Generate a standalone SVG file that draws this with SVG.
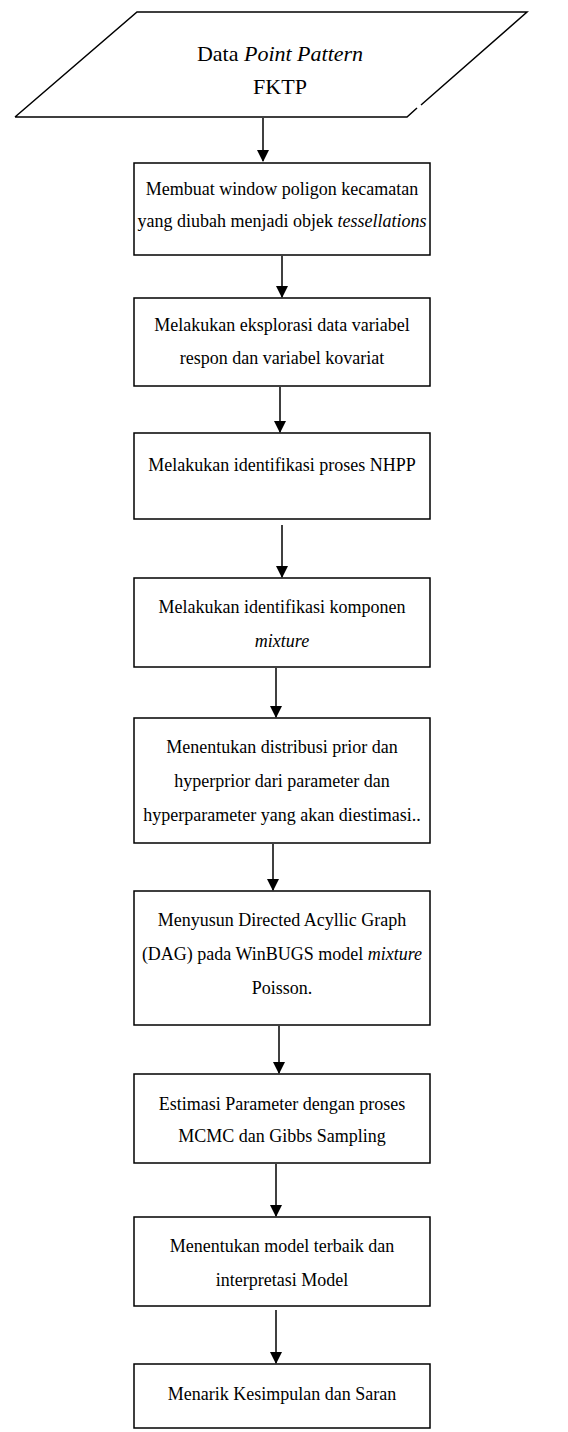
<svg xmlns="http://www.w3.org/2000/svg" width="568" height="1432" viewBox="0 0 568 1432">
<defs>
<marker id="ah" markerWidth="12" markerHeight="14" refX="11" refY="6" orient="auto" markerUnits="userSpaceOnUse" viewBox="0 0 12 12">
<path d="M0,0 L12,6 L0,12 Z" fill="#000"/>
</marker>
</defs>
<style>
.b{fill:#fff;stroke:#000;stroke-width:1.5}
.t{font-family:"Liberation Serif","Times New Roman",serif;font-size:18px;fill:#000;text-anchor:middle}
.h{font-size:22px}
.i{font-style:italic}
.c{stroke:#000;stroke-width:1.5;fill:none;marker-end:url(#ah)}
</style>
<rect width="568" height="1432" fill="#fff"/>
<g id="n0">
<path class="b" d="M15,117 L137,12 L527,12 L421,105 M417,108 L407,117 L15,117" fill="none"/>
<text class="t h" x="280" y="61">Data <tspan class="i">Point Pattern</tspan></text>
<text class="t h" x="280" y="94">FKTP</text>
</g>
<g id="n1">
<rect class="b" x="134" y="163" width="296" height="92"/>
<text class="t" x="282" y="195">Membuat window poligon kecamatan</text>
<text class="t" x="282" y="227">yang diubah menjadi objek <tspan class="i">tessellations</tspan></text>
</g>
<g id="n2">
<rect class="b" x="134" y="298" width="296" height="88"/>
<text class="t" x="282" y="331">Melakukan eksplorasi data variabel</text>
<text class="t" x="282" y="364">respon dan variabel kovariat</text>
</g>
<g id="n3">
<rect class="b" x="134" y="433" width="296" height="86"/>
<text class="t" x="282" y="471">Melakukan identifikasi proses NHPP</text>
</g>
<g id="n4">
<rect class="b" x="134" y="578" width="296" height="89"/>
<text class="t" x="282" y="613">Melakukan identifikasi komponen</text>
<text class="t i" x="282" y="647">mixture</text>
</g>
<g id="n5">
<rect class="b" x="134" y="718" width="296" height="125"/>
<text class="t" x="282" y="753">Menentukan distribusi prior dan</text>
<text class="t" x="282" y="787">hyperprior dari parameter dan</text>
<text class="t" x="282" y="821">hyperparameter yang akan diestimasi..</text>
</g>
<g id="n6">
<rect class="b" x="134" y="891" width="296" height="134"/>
<text class="t" x="282" y="926">Menyusun Directed Acyllic Graph</text>
<text class="t" x="282" y="960">(DAG) pada WinBUGS model <tspan class="i">mixture</tspan></text>
<text class="t" x="282" y="994">Poisson.</text>
</g>
<g id="n7">
<rect class="b" x="134" y="1074" width="296" height="89"/>
<text class="t" x="282" y="1110">Estimasi Parameter dengan proses</text>
<text class="t" x="282" y="1142">MCMC dan Gibbs Sampling</text>
</g>
<g id="n8">
<rect class="b" x="134" y="1217" width="296" height="89"/>
<text class="t" x="282" y="1252">Menentukan model terbaik dan</text>
<text class="t" x="282" y="1286">interpretasi Model</text>
</g>
<g id="n9">
<rect class="b" x="134" y="1364" width="296" height="64"/>
<text class="t" x="282" y="1400">Menarik Kesimpulan dan Saran</text>
</g>
<g id="connectors">
<line class="c" x1="263" y1="118" x2="263" y2="161"/>
<line class="c" x1="282" y1="256" x2="282" y2="297"/>
<line class="c" x1="280" y1="387" x2="280" y2="432"/>
<line class="c" x1="282" y1="525" x2="282" y2="577"/>
<line class="c" x1="276" y1="668" x2="276" y2="717"/>
<line class="c" x1="273" y1="844" x2="273" y2="890"/>
<line class="c" x1="279" y1="1026" x2="279" y2="1073"/>
<line class="c" x1="276" y1="1164" x2="276" y2="1216"/>
<line class="c" x1="276" y1="1310" x2="276" y2="1363"/>
</g>
</svg>
